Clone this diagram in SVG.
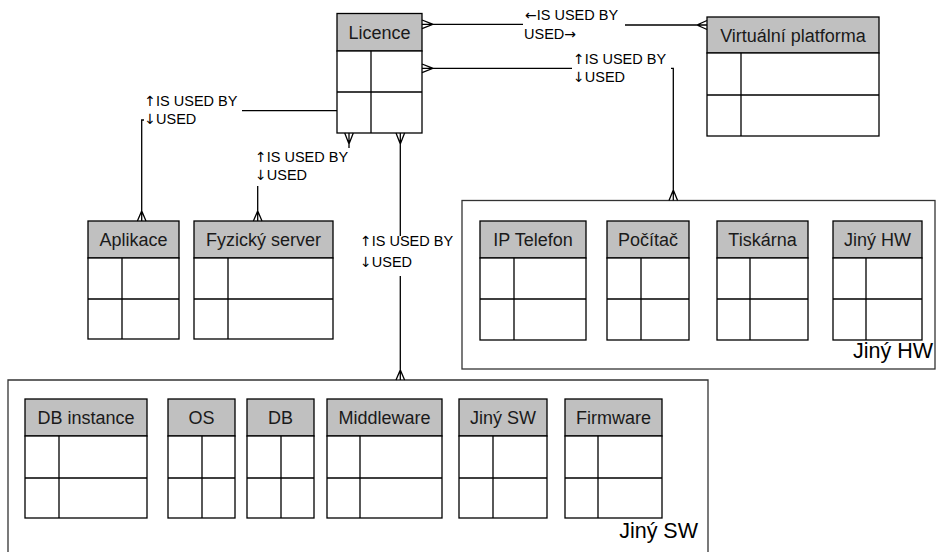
<svg xmlns="http://www.w3.org/2000/svg" width="936" height="552" viewBox="0 0 936 552">
<style>
.hd{fill:#c0c0c0;stroke:#000;stroke-width:1.3}
.bd{fill:#fff;stroke:#000;stroke-width:1.3}
.ln{stroke:#000;stroke-width:1.3;fill:none}
.ht{font-family:"Liberation Sans",Arial,sans-serif;font-size:18px;fill:#1a1a1a;text-anchor:middle}
.lb{font-family:"Liberation Sans",Arial,sans-serif;font-size:14.5px;fill:#000}
.ar{font-family:"Noto Sans","DejaVu Sans",sans-serif;font-size:14px}
.ct{font-family:"Liberation Sans",Arial,sans-serif;font-size:21.5px;fill:#000;text-anchor:end}
.cn{fill:none;stroke:#333;stroke-width:1.3}
.cx{stroke:#000;stroke-width:1.3;fill:none}
</style>
<rect width="936" height="552" fill="#fff"/>
<g id="container-hw">
<rect class="cn" x="462" y="200.5" width="473" height="168.5"/>
<text class="ct" x="933" y="358">Jiný HW</text>
</g>
<g id="container-sw">
<path class="cn" d="M8,553 V380 H708 V553"/>
<text class="ct" x="698" y="538">Jiný SW</text>
</g>
<g id="licence">
<rect class="hd" x="337" y="13.5" width="85" height="37.5"/>
<rect class="bd" x="337" y="51" width="85" height="82"/>
<path class="ln" d="M337,92 H422 M371,51 V133"/>
<text class="ht" x="379.5" y="38.5">Licence</text>
</g>
<g id="virtualni-platforma">
<rect class="hd" x="707" y="17" width="172" height="36"/>
<rect class="bd" x="707" y="53" width="172" height="83"/>
<path class="ln" d="M707,95 H879 M741,53 V136"/>
<text class="ht" x="793" y="41.5">Virtuální platforma</text>
</g>
<g id="aplikace">
<rect class="hd" x="88" y="221" width="91" height="37"/>
<rect class="bd" x="88" y="258" width="91" height="81"/>
<path class="ln" d="M88,299 H179 M122,258 V339"/>
<text class="ht" x="133.5" y="246">Aplikace</text>
</g>
<g id="fyzicky-server">
<rect class="hd" x="194" y="221" width="139" height="37"/>
<rect class="bd" x="194" y="258" width="139" height="81"/>
<path class="ln" d="M194,299 H333 M228,258 V339"/>
<text class="ht" x="263.5" y="246">Fyzický server</text>
</g>
<g id="ip-telefon">
<rect class="hd" x="480" y="221" width="106" height="37"/>
<rect class="bd" x="480" y="258" width="106" height="82"/>
<path class="ln" d="M480,299 H586 M514,258 V340"/>
<text class="ht" x="533" y="246">IP Telefon</text>
</g>
<g id="pocitac">
<rect class="hd" x="607" y="221" width="82" height="37"/>
<rect class="bd" x="607" y="258" width="82" height="82"/>
<path class="ln" d="M607,299 H689 M641,258 V340"/>
<text class="ht" x="648" y="246">Počítač</text>
</g>
<g id="tiskarna">
<rect class="hd" x="717" y="221" width="91" height="37"/>
<rect class="bd" x="717" y="258" width="91" height="82"/>
<path class="ln" d="M717,299 H808 M750,258 V340"/>
<text class="ht" x="762.5" y="246">Tiskárna</text>
</g>
<g id="jiny-hw">
<rect class="hd" x="833" y="221" width="89" height="37"/>
<rect class="bd" x="833" y="258" width="89" height="82"/>
<path class="ln" d="M833,299 H922 M866,258 V340"/>
<text class="ht" x="877.5" y="246">Jiný HW</text>
</g>
<g id="db-instance">
<rect class="hd" x="25" y="399" width="122" height="37"/>
<rect class="bd" x="25" y="436" width="122" height="82"/>
<path class="ln" d="M25,478 H147 M59,436 V518"/>
<text class="ht" x="86" y="424">DB instance</text>
</g>
<g id="os">
<rect class="hd" x="168" y="399" width="67" height="37"/>
<rect class="bd" x="168" y="436" width="67" height="82"/>
<path class="ln" d="M168,478 H235 M202,436 V518"/>
<text class="ht" x="201.5" y="424">OS</text>
</g>
<g id="db">
<rect class="hd" x="247" y="399" width="67" height="37"/>
<rect class="bd" x="247" y="436" width="67" height="82"/>
<path class="ln" d="M247,478 H314 M281,436 V518"/>
<text class="ht" x="280.5" y="424">DB</text>
</g>
<g id="middleware">
<rect class="hd" x="327" y="399" width="115" height="37"/>
<rect class="bd" x="327" y="436" width="115" height="82"/>
<path class="ln" d="M327,478 H442 M360,436 V518"/>
<text class="ht" x="384.5" y="424">Middleware</text>
</g>
<g id="jiny-sw">
<rect class="hd" x="459" y="399" width="88" height="37"/>
<rect class="bd" x="459" y="436" width="88" height="82"/>
<path class="ln" d="M459,478 H547 M493,436 V518"/>
<text class="ht" x="503" y="424">Jiný SW</text>
</g>
<g id="firmware">
<rect class="hd" x="565" y="399" width="97" height="37"/>
<rect class="bd" x="565" y="436" width="97" height="82"/>
<path class="ln" d="M565,478 H662 M598,436 V518"/>
<text class="ht" x="613.5" y="424">Firmware</text>
</g>
<g id="connectors">
<path class="cx" d="M422,20 L433,24.3 L422,28.6 M422,24.3 H523 M625,25 H707 M707,20.5 L697,25 L707,29.5"/>
<text class="lb" x="525" y="20"><tspan class="ar">←</tspan>IS USED BY</text>
<text class="lb" x="524" y="38.5">USED<tspan class="ar">→</tspan></text>
<path class="cx" d="M422,64 L433,68.3 L422,72.6 M422,68.3 H572 M671,68.3 H673.3 V200.5 M669,200.5 L673.3,190 L677.6,200.5"/>
<text class="lb" x="573" y="63.5"><tspan class="ar">↑</tspan>IS USED BY</text>
<text class="lb" x="573" y="82"><tspan class="ar">↓</tspan>USED</text>
<path class="cx" d="M337,110.7 H242 M144,120 H141.7 V221 M137.4,221 L141.7,211 L146,221"/>
<text class="lb" x="144.3" y="105.5"><tspan class="ar">↑</tspan>IS USED BY</text>
<text class="lb" x="144.3" y="123.6"><tspan class="ar">↓</tspan>USED</text>
<path class="cx" d="M344.7,133 L349,144 L353.3,133 M349,133 V148 M257.7,186 V221 M253.4,221 L257.7,211 L262,221"/>
<text class="lb" x="255" y="162.2"><tspan class="ar">↑</tspan>IS USED BY</text>
<text class="lb" x="255" y="180.3"><tspan class="ar">↓</tspan>USED</text>
<path class="cx" d="M396,133 L400.3,144 L404.6,133 M400.3,133 V236 M400.3,276 V380 M396,380 L400.3,370 L404.6,380"/>
<text class="lb" x="360" y="246.2"><tspan class="ar">↑</tspan>IS USED BY</text>
<text class="lb" x="360" y="267"><tspan class="ar">↓</tspan>USED</text>
</g>
</svg>
